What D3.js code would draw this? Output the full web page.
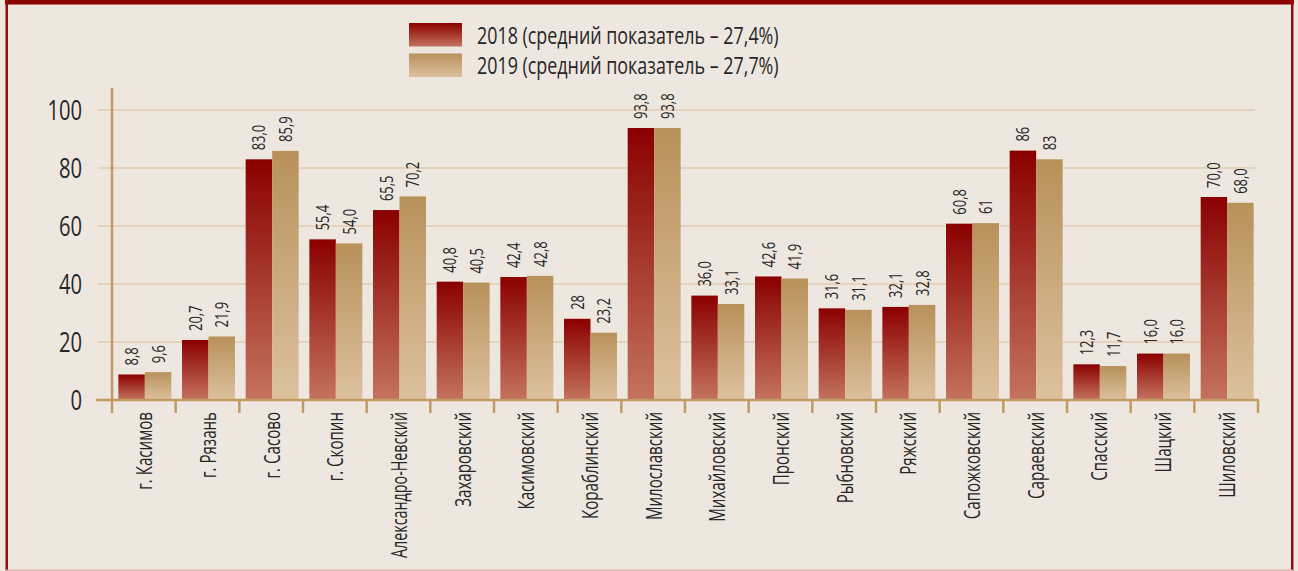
<!DOCTYPE html>
<html>
<head>
<meta charset="utf-8">
<script src="https://cdn.jsdelivr.net/npm/d3@7"></script>
<style>
  html, body { margin: 0; padding: 0; background: #EEE7E0; }
  svg { display: block; }
  text { font-family: "Open Sans", "Noto Sans", sans-serif; fill: #262626; }
</style>
</head>
<body>
<svg id="chart" width="1298" height="571"></svg>
<script>
// Districts of Ryazan region
const categories = ["г. Касимов", "г. Рязань", "г. Сасово", "г. Скопин", "Александро-Невский",
  "Захаровский", "Касимовский", "Кораблинский", "Милославский", "Михайловский", "Пронский",
  "Рыбновский", "Ряжский", "Сапожковский", "Сараевский", "Спасский", "Шацкий", "Шиловский"];

const values2018 = [8.8, 20.7, 83.0, 55.4, 65.5, 40.8, 42.4, 28, 93.8, 36.0, 42.6, 31.6, 32.1, 60.8, 86, 12.3, 16.0, 70.0];
const values2019 = [9.6, 21.9, 85.9, 54.0, 70.2, 40.5, 42.8, 23.2, 93.8, 33.1, 41.9, 31.1, 32.8, 61, 83, 11.7, 16.0, 68.0];

const labels2018 = ["8,8", "20,7", "83,0", "55,4", "65,5", "40,8", "42,4", "28", "93,8", "36,0", "42,6", "31,6", "32,1", "60,8", "86", "12,3", "16,0", "70,0"];
const labels2019 = ["9,6", "21,9", "85,9", "54,0", "70,2", "40,5", "42,8", "23,2", "93,8", "33,1", "41,9", "31,1", "32,8", "61", "83", "11,7", "16,0", "68,0"];

const seriesNames = ["2018 (средний показатель – 27,4%)", "2019 (средний показатель – 27,7%)"];
const yTicks = [0, 20, 40, 60, 80, 100];

// condensed look: squeeze glyphs along the text direction
const SQ = 0.72;

const svg = d3.select("#chart");
const W = 1298, H = 571;

// frame
svg.append("rect").attr("x", 0).attr("y", 0).attr("width", W).attr("height", H).attr("fill", "#EEE7E0");
svg.append("rect").attr("x", 5).attr("y", 0).attr("width", 1289).attr("height", 4.5).attr("fill", "#8B0000");
svg.append("rect").attr("x", 5.5).attr("y", 0).attr("width", 2.5).attr("height", H).attr("fill", "#9A0A0A");
svg.append("rect").attr("x", 1291).attr("y", 0).attr("width", 2.5).attr("height", H).attr("fill", "#9A0A0A");
svg.append("rect").attr("x", 5.5).attr("y", 569.5).attr("width", 1288).attr("height", 1.5).attr("fill", "#DDB3B0");

// gradients
const defs = svg.append("defs");
function grad(id, top, bottom) {
  const g = defs.append("linearGradient").attr("id", id)
    .attr("x1", 0).attr("y1", 0).attr("x2", 0).attr("y2", 1);
  g.append("stop").attr("offset", "0%").attr("stop-color", top);
  g.append("stop").attr("offset", "100%").attr("stop-color", bottom);
}
grad("g2018", "#8A0000", "#C4735E");
grad("g2019", "#B8915A", "#DCC19F");
const fills = ["url(#g2018)", "url(#g2019)"];

// scales
const plotLeft = 112, plotRight = 1258;
const y = d3.scaleLinear().domain([0, 100]).range([400, 110]);
const x0 = d3.scaleBand().domain(categories).range([plotLeft, plotRight])
  .paddingInner(0.168).paddingOuter(0.084);
const x1 = d3.scaleBand().domain([0, 1]).range([0, x0.bandwidth()]);

// gridlines
svg.append("g").selectAll("line").data(yTicks.filter(t => t > 0)).join("line")
  .attr("x1", 98).attr("x2", 1255)
  .attr("y1", d => y(d)).attr("y2", d => y(d))
  .attr("stroke", "#E6D3BD").attr("stroke-width", 2);

// y tick labels
svg.append("g").selectAll("text").data(yTicks).join("text")
  .attr("transform", d => `translate(82,${y(d)}) scale(${SQ},1)`)
  .attr("dy", "0.36em")
  .attr("text-anchor", "end").attr("font-size", 28)
  .text(d => d);

// bars
const series = [values2018, values2019];
const seriesLabels = [labels2018, labels2019];
const bars = svg.append("g");
categories.forEach((c, i) => {
  [0, 1].forEach(s => {
    const v = series[s][i];
    const bx = x0(c) + x1(s) + 1;
    bars.append("rect")
      .attr("x", bx).attr("width", x1.bandwidth())
      .attr("y", y(v)).attr("height", y(0) - y(v))
      .attr("fill", fills[s]);
    const cx = bx + x1.bandwidth() / 2;
    const ty = y(v) - 9;
    bars.append("text")
      .attr("transform", `translate(${cx},${ty}) rotate(-90) scale(${SQ},1)`)
      .attr("dy", "0.36em").attr("font-size", 18)
      .text(seriesLabels[s][i]);
  });
});

// axes lines
const axisColor = "#C09A63";
svg.append("line").attr("x1", plotLeft).attr("x2", plotLeft).attr("y1", 88).attr("y2", 400)
  .attr("stroke", axisColor).attr("stroke-width", 2.5);
svg.append("line").attr("x1", 96).attr("x2", plotRight + 1).attr("y1", y(0)).attr("y2", y(0))
  .attr("stroke", axisColor).attr("stroke-width", 2.5);

// category ticks at band boundaries
const bounds = d3.range(categories.length + 1).map(i => plotLeft + i * x0.step());
svg.append("g").selectAll("line").data(bounds).join("line")
  .attr("x1", d => d).attr("x2", d => d).attr("y1", y(0)).attr("y2", 413)
  .attr("stroke", axisColor).attr("stroke-width", 2.5);

// category labels; long names are squeezed further so they stay inside the frame
const maxLabelLen = 146;
svg.append("g").selectAll("text").data(categories).join("text")
  .attr("text-anchor", "end").attr("dy", "0.36em").attr("font-size", 21)
  .text(c => c)
  .each(function (c) {
    const len = this.getComputedTextLength() * SQ;
    const k = len > maxLabelLen ? SQ * maxLabelLen / len : SQ;
    d3.select(this).attr("transform",
      `translate(${x0(c) + x0.bandwidth() / 2 + 1},412) rotate(-90) scale(${k},1)`);
  });

// legend
const legend = svg.append("g");
seriesNames.forEach((name, s) => {
  legend.append("rect").attr("x", 409).attr("y", 23 + s * 30.5)
    .attr("width", 53).attr("height", 23.5).attr("fill", fills[s]);
  legend.append("text")
    .attr("transform", `translate(477,${35 + s * 30.5}) scale(0.745,1)`)
    .attr("dy", "0.36em")
    .attr("font-size", 24).text(name);
});
</script>
</body>
</html>
